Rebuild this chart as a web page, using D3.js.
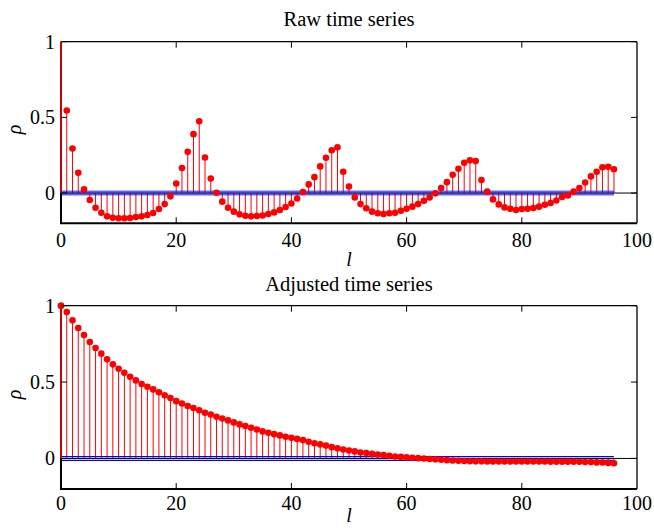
<!DOCTYPE html>
<html>
<head>
<meta charset="utf-8">
<script src="https://cdn.jsdelivr.net/npm/d3@7/dist/d3.min.js"></script>
<style>
  html, body { margin: 0; padding: 0; background: #fff; }
  svg text { font-family: "Liberation Serif", "DejaVu Serif", serif; fill: #000; }
</style>
</head>
<body>
<svg id="chart" width="654" height="532"></svg>
<script>
// ---- data ----
const lags = d3.range(0, 97);
const rawACF = [1.0, 0.545, 0.294, 0.134, 0.024, -0.046, -0.097, -0.130, -0.154, -0.163,
  -0.167, -0.167, -0.165, -0.158, -0.154, -0.145, -0.132, -0.106, -0.073, -0.022,
  0.063, 0.165, 0.272, 0.389, 0.474, 0.235, 0.096, 0.002, -0.057, -0.097,
  -0.123, -0.141, -0.150, -0.154, -0.152, -0.148, -0.139, -0.128, -0.112, -0.092,
  -0.069, -0.036, 0.007, 0.057, 0.105, 0.176, 0.233, 0.283, 0.303, 0.141,
  0.043, -0.029, -0.073, -0.101, -0.123, -0.134, -0.139, -0.134, -0.130, -0.117,
  -0.104, -0.090, -0.073, -0.051, -0.029, -0.002, 0.033, 0.072, 0.121, 0.160,
  0.200, 0.217, 0.211, 0.086, 0.009, -0.042, -0.075, -0.095, -0.104, -0.112,
  -0.106, -0.104, -0.099, -0.090, -0.077, -0.066, -0.049, -0.026, -0.016, 0.009,
  0.033, 0.070, 0.110, 0.140, 0.170, 0.174, 0.157];
const adjACF = [1.0, 0.959, 0.904, 0.854, 0.808, 0.762, 0.723, 0.686, 0.649, 0.616,
  0.587, 0.561, 0.535, 0.511, 0.487, 0.469, 0.452, 0.433, 0.413, 0.395,
  0.375, 0.360, 0.343, 0.330, 0.315, 0.299, 0.288, 0.273, 0.262, 0.249,
  0.236, 0.223, 0.212, 0.201, 0.190, 0.177, 0.168, 0.159, 0.151, 0.142,
  0.135, 0.128, 0.120, 0.109, 0.100, 0.092, 0.084, 0.074, 0.066, 0.059,
  0.052, 0.046, 0.039, 0.035, 0.030, 0.026, 0.022, 0.017, 0.013, 0.010,
  0.007, 0.004, 0.002, 0.000, -0.004, -0.006, -0.009, -0.011, -0.013, -0.015,
  -0.017, -0.018, -0.019, -0.019, -0.020, -0.020, -0.020, -0.020, -0.020, -0.020,
  -0.020, -0.020, -0.020, -0.020, -0.020, -0.021, -0.021, -0.021, -0.021, -0.021,
  -0.022, -0.023, -0.024, -0.026, -0.027, -0.029, -0.031];
const confBound = 0.012;
const xTicks = [0, 20, 40, 60, 80, 100];
const yTicks = [0, 0.5, 1];
const yTickLabels = ["0", "0.5", "1"];
const titles = ["Raw time series", "Adjusted time series"];

// ---- layout ----
const svg = d3.select("#chart");
const left = 61, right = 637;
const panels = [
  { top: 41.7, bottom: 223.3, data: rawACF, title: titles[0], titleY: 26, tickY: 247, lY: 266, band: true, skipFirstDot: true },
  { top: 305.7, bottom: 489, data: adjACF, title: titles[1], titleY: 291, tickY: 510, lY: 522, band: false, skipFirstDot: false }
];

const x = d3.scaleLinear().domain([0, 100]).range([left, right]);

panels.forEach((p, pi) => {
  const y = d3.scaleLinear().domain([-0.2, 1]).range([p.bottom, p.top]);
  const g = svg.append("g");
  const clipId = "clip" + pi;
  svg.append("clipPath").attr("id", clipId).append("rect")
    .attr("x", left).attr("y", p.top).attr("width", right - left).attr("height", p.bottom - p.top);

  const plot = g.append("g").attr("clip-path", `url(#${clipId})`);

  // stems
  plot.selectAll("line.stem").data(lags).join("line")
    .attr("class", "stem")
    .attr("x1", d => x(d)).attr("x2", d => x(d))
    .attr("y1", y(0)).attr("y2", d => y(p.data[d]))
    .attr("stroke", "#ff0000").attr("stroke-width", 1);

  // markers
  const dotLags = p.skipFirstDot ? lags.slice(1) : lags;
  g.selectAll("circle.dot").data(dotLags).join("circle")
    .attr("class", "dot")
    .attr("cx", d => x(d)).attr("cy", d => y(p.data[d]))
    .attr("r", 3.3).attr("fill", "#ff0000");

  // zero line
  plot.append("line")
    .attr("x1", left).attr("x2", right).attr("y1", y(0)).attr("y2", y(0))
    .attr("stroke", "#000").attr("stroke-width", 1);

  // confidence bounds
  if (p.band) {
    plot.append("rect")
      .attr("x", x(0)).attr("width", x(96) - x(0))
      .attr("y", y(confBound)).attr("height", y(-confBound) - y(confBound))
      .attr("fill", "rgba(60,60,255,0.5)");
    [confBound, -confBound].forEach(c => {
      plot.append("line")
        .attr("x1", x(0)).attr("x2", x(96)).attr("y1", y(c)).attr("y2", y(c))
        .attr("stroke", "rgba(0,0,255,0.6)").attr("stroke-width", 1.3);
    });
    plot.append("line")
      .attr("x1", x(0)).attr("x2", x(96)).attr("y1", y(0)).attr("y2", y(0))
      .attr("stroke", "rgba(0,0,60,0.6)").attr("stroke-width", 1);
  } else {
    [confBound, -confBound].forEach(c => {
      plot.append("line")
        .attr("x1", x(0)).attr("x2", x(96)).attr("y1", y(c)).attr("y2", y(c))
        .attr("stroke", "#0000ff").attr("stroke-width", 1.2);
    });
  }

  // frame
  g.append("line").attr("x1", left).attr("x2", right).attr("y1", p.top).attr("y2", p.top)
    .attr("stroke", "#000").attr("stroke-width", 1.3);
  g.append("line").attr("x1", right).attr("x2", right).attr("y1", p.top).attr("y2", p.bottom)
    .attr("stroke", "#000").attr("stroke-width", 1.3);
  g.append("line").attr("x1", left - 1).attr("x2", right).attr("y1", p.bottom).attr("y2", p.bottom)
    .attr("stroke", "#000").attr("stroke-width", 2);
  g.append("line").attr("x1", left).attr("x2", left).attr("y1", p.top).attr("y2", p.bottom)
    .attr("stroke", "#000").attr("stroke-width", 2);
  // lag 0 stem on top of left spine
  g.append("line").attr("x1", x(0)).attr("x2", x(0)).attr("y1", y(0)).attr("y2", y(p.data[0]))
    .attr("stroke", "#cc0000").attr("stroke-width", 2);
  if (!p.skipFirstDot) {
    g.append("circle").attr("cx", x(0)).attr("cy", y(p.data[0])).attr("r", 3.3).attr("fill", "#ff0000");
  }

  // ticks (inward)
  const tl = 6;
  xTicks.slice(1, -1).forEach(t => {
    g.append("line").attr("x1", x(t)).attr("x2", x(t)).attr("y1", p.bottom).attr("y2", p.bottom - tl)
      .attr("stroke", "#000").attr("stroke-width", 1);
    g.append("line").attr("x1", x(t)).attr("x2", x(t)).attr("y1", p.top).attr("y2", p.top + tl)
      .attr("stroke", "#000").attr("stroke-width", 1);
  });
  yTicks.forEach(t => {
    g.append("line").attr("x1", right).attr("x2", right - tl).attr("y1", y(t)).attr("y2", y(t))
      .attr("stroke", "#000").attr("stroke-width", 1);
    g.append("line").attr("x1", left).attr("x2", left + tl).attr("y1", y(t)).attr("y2", y(t))
      .attr("stroke", "#000").attr("stroke-width", 1);
  });

  // tick labels
  xTicks.forEach(t => {
    g.append("text").attr("x", x(t)).attr("y", p.tickY).attr("text-anchor", "middle")
      .attr("font-size", 20).text(t);
  });
  yTicks.forEach((t, i) => {
    g.append("text").attr("x", 55).attr("y", y(t) + 7).attr("text-anchor", "end")
      .attr("font-size", 20).text(yTickLabels[i]);
  });

  // title
  g.append("text").attr("x", (left + right) / 2).attr("y", p.titleY).attr("text-anchor", "middle")
    .attr("font-size", 20.5).text(p.title);

  // axis labels
  g.append("text").attr("x", (left + right) / 2).attr("y", p.lY).attr("text-anchor", "middle")
    .attr("font-size", 20).attr("font-style", "italic").text("l");
  const cy = (p.top + p.bottom) / 2 - 3;
  g.append("text").attr("transform", `translate(21,${cy}) rotate(-90)`).attr("text-anchor", "middle")
    .attr("font-size", 20).attr("font-style", "italic").text("ρ");
});
</script>
</body>
</html>
